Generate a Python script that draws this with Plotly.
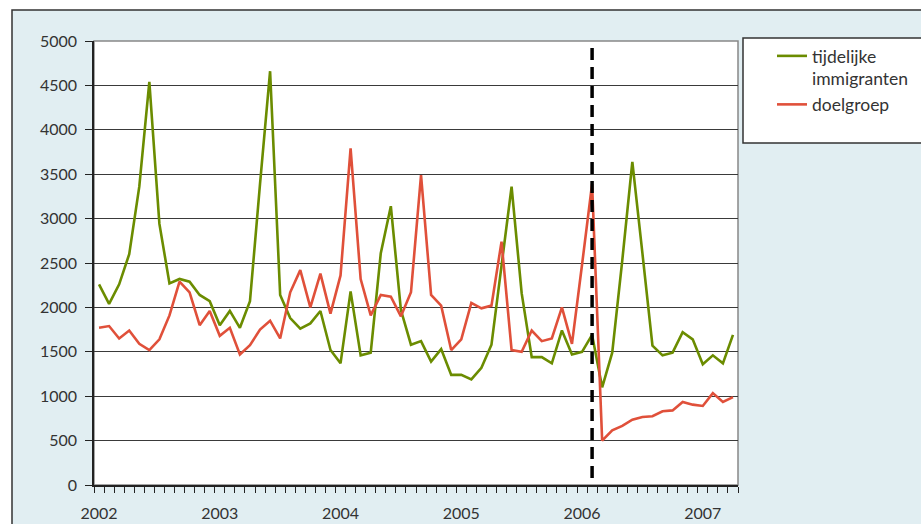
import plotly.graph_objects as go

# maanden jan 2002 t/m apr 2007
maanden = [f"{j}-{m:02d}" for j in range(2002, 2008) for m in range(1, 13)][:64]

tijdelijke_immigranten = [
    2260, 2040, 2260, 2600, 3360, 4540, 2940, 2270, 2320, 2290, 2140, 2070,
    1800, 1960, 1770, 2070, 3390, 4660, 2140, 1880, 1760, 1820, 1960, 1520,
    1370, 2180, 1460, 1490, 2610, 3140, 1970, 1580, 1620, 1390, 1530, 1240,
    1240, 1190, 1320, 1580, 2470, 3360, 2160, 1440, 1440, 1370, 1740, 1470,
    1500, 1690, 1100, 1490, 2530, 3640, 2610, 1570, 1460, 1490, 1720, 1640,
    1360, 1460, 1370, 1690,
]

doelgroep = [
    1770, 1790, 1650, 1740, 1590, 1520, 1640, 1910, 2290, 2170, 1800, 1960,
    1680, 1770, 1470, 1575, 1750, 1850, 1650, 2170, 2420, 2000, 2380, 1930,
    2360, 3790, 2320, 1910, 2140, 2120, 1900, 2170, 3490, 2140, 2020, 1520,
    1640, 2050, 1990, 2020, 2740, 1520, 1500, 1740, 1620, 1650, 2000, 1590,
    2480, 3390, 500, 615, 665, 735, 765, 775, 830, 840, 935, 905,
    890, 1035, 935, 990,
]

jaarlabels = [m[:4] if m.endswith("-01") else "" for m in maanden]
grens = "2006-02"

font = "Lato, 'Open Sans', sans-serif"

# plotgebied in pixels
L, R, T, B = 94, 738, 41, 485
W, H = R - L, B - T


def px(x):
    return (x - L) / W


def py(y):
    return (B - y) / H


fig = go.Figure()

fig.add_trace(go.Scatter(
    x=maanden, y=tijdelijke_immigranten, mode="lines",
    name="tijdelijke<br>immigranten",
    line=dict(color="#6b8c00", width=2.6)
))
fig.add_trace(go.Scatter(
    x=maanden, y=doelgroep, mode="lines",
    name="doelgroep",
    line=dict(color="#e0503a", width=2.6)
))

# verticale stippellijn
fig.add_shape(type="line", xref="x", yref="paper",
              x0=grens, x1=grens, y0=py(478), y1=1,
              line=dict(color="black", width=3.5, dash="12px,7px"), layer="above")

# kader van plotgebied
fig.add_shape(type="rect", xref="paper", yref="paper", x0=0, x1=1, y0=0, y1=1,
              line=dict(color="#888888", width=1.5), layer="below")

# witte randen en donker kader van de figuur
fig.add_shape(type="rect", xref="paper", yref="paper", x0=-0.3, x1=px(12),
              y0=-0.2, y1=1.2, fillcolor="white", line_width=0, layer="below")
fig.add_shape(type="rect", xref="paper", yref="paper", x0=-0.3, x1=1.5,
              y0=py(10), y1=1.2, fillcolor="white", line_width=0, layer="below")
fig.add_shape(type="rect", xref="paper", yref="paper", x0=px(12), x1=1.5,
              y0=-0.2, y1=py(10), line=dict(color="#333333", width=1.5),
              layer="below")

# legendakader
fig.add_shape(type="rect", xref="paper", yref="paper",
              x0=px(743), x1=1.5, y0=py(143), y1=py(38),
              fillcolor="white", line=dict(color="#333333", width=1.5), layer="below")

fig.update_layout(
    width=921, height=524,
    margin=dict(l=L, r=921 - R, t=T, b=524 - B, autoexpand=False),
    paper_bgcolor="#e1eef2",
    plot_bgcolor="white",
    font=dict(family=font, size=16, color="#333333"),
    showlegend=True,
    legend=dict(
        x=px(772), xanchor="left", y=py(38), yanchor="top",
        bgcolor="rgba(0,0,0,0)", borderwidth=0,
        font=dict(size=17.5, color="#333333"),
        valign="top",
        tracegroupgap=7,
    ),
    xaxis=dict(
        type="category",
        range=[-0.5, 63.5],
        tickvals=maanden, ticktext=jaarlabels,
        tickson="boundaries",
        ticks="outside", ticklen=6, tickcolor="#222222", tickwidth=1.3,
        showline=True, linecolor="#222222", linewidth=1.5,
        showgrid=False, zeroline=False,
        tickangle=0, ticklabelstandoff=13,
    ),
    yaxis=dict(
        range=[0, 5000],
        tickvals=[0, 500, 1000, 1500, 2000, 2500, 3000, 3500, 4000, 4500, 5000],
        ticks="outside", ticklen=7, tickcolor="#222222", tickwidth=1.3,
        showline=True, linecolor="#222222", linewidth=1.5,
        showgrid=True, gridcolor="#3a3a3a", gridwidth=1,
        zeroline=False, ticklabelstandoff=5,
    ),
)

fig.write_html("out.html", post_script="document.body.style.margin='0';",
               config={"displayModeBar": False})
